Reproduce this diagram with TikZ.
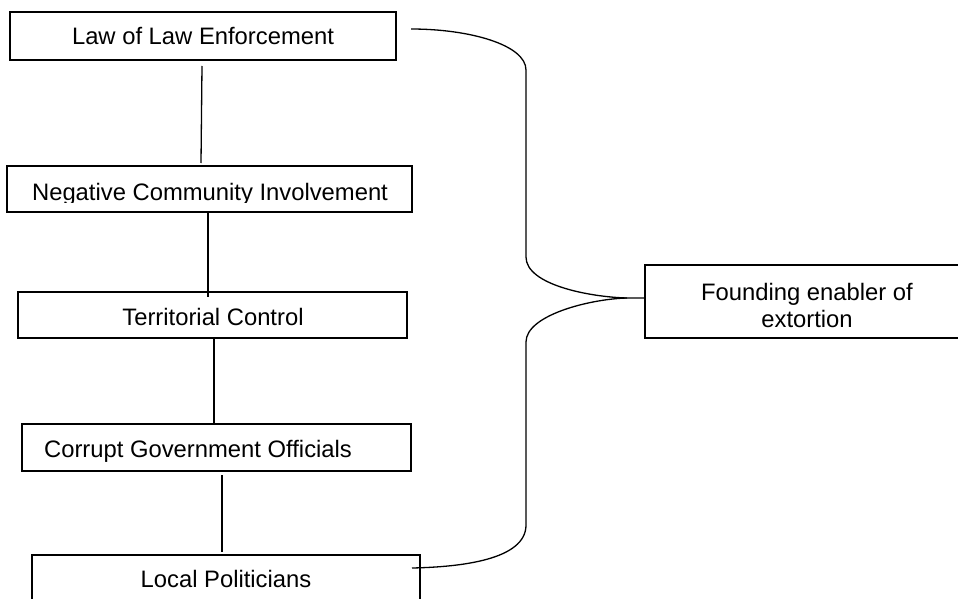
\documentclass[tikz,border=0pt]{standalone}
\usepackage{fontspec}
\setmainfont{Liberation Sans}
\usetikzlibrary{calc}
\begin{document}
\begin{tikzpicture}[x=1pt,y=-1pt,
  boxshape/.style={draw, line width=1.9pt, rectangle, inner sep=0pt, outer sep=0pt},
  lbl/.style={anchor=base, inner sep=0pt, font=\fontsize{23.8}{27}\selectfont},
  conn/.style={line width=1.3pt}]
\useasboundingbox (0,0) rectangle (958,599);
\clip (0,0) rectangle (958,599);
% boxes
\node[boxshape, minimum width=386pt, minimum height=48pt] (b1) at (203,36) {};
\node[boxshape, minimum width=405pt, minimum height=46pt] (b2) at (209.5,189) {};
\node[boxshape, minimum width=389pt, minimum height=46pt] (b3) at (212.5,315) {};
\node[boxshape, minimum width=389pt, minimum height=47pt] (b4) at (216.5,447.5) {};
\node[boxshape, minimum width=388pt, minimum height=65pt] (b5) at (226,587.5) {};
\node[boxshape, minimum width=335pt, minimum height=73pt] (bf) at (812.5,301.5) {};
% texts
\node[lbl] (t1) at (203,45) {Law of Law Enforcement};
\begin{scope}
  \clip (7,166) rectangle (412,202);
  \node[lbl] (t2) at (210,200) {Negative Community Involvement};
\end{scope}
\node[lbl] (t3) at (213,325) {Territorial Control};
\node[lbl] (t4) at (198,457) {Corrupt Government Officials};
\node[lbl] (t5) at (226,587) {Local Politicians};
\node[lbl] (tf1) at (807,300) {Founding enabler of};
\node[lbl] (tf2) at (807,327) {extortion};
% vertical connectors
\draw[conn] ($(b1.south)+(-1,6)$) -- ($(b2.north)+(-8.5,-3)$);
\draw[conn] ($(b2.south)+(-1.5,0)$) -- ($(b3.north)+(-4.5,5)$);
\draw[conn] ($(b3.south)+(1.5,0)$) -- ($(b4.north)+(-2.5,1)$);
\draw[conn] ($(b4.south)+(5.5,4)$) -- ($(b5.north)+(-4,-3)$);
% brace
\coordinate (ua) at ($(b1.east)+(15,-7)$);
\coordinate (tip) at ($(bf.west)+(-18,-3.5)$);
\coordinate (lb) at ($(b5.east)+(-8,-19.5)$);
\draw[conn] (ua) .. controls (470,29) and (526,45) .. (526,70)
  -- (526,257) .. controls (526,285) and (590,297) .. (tip) -- (tip -| bf.west);
\draw[conn] (tip) .. controls (590,299) and (526,315) .. (526,342)
  -- (526,525) .. controls (526,560) and (460,567) .. (lb);
\end{tikzpicture}
\end{document}
